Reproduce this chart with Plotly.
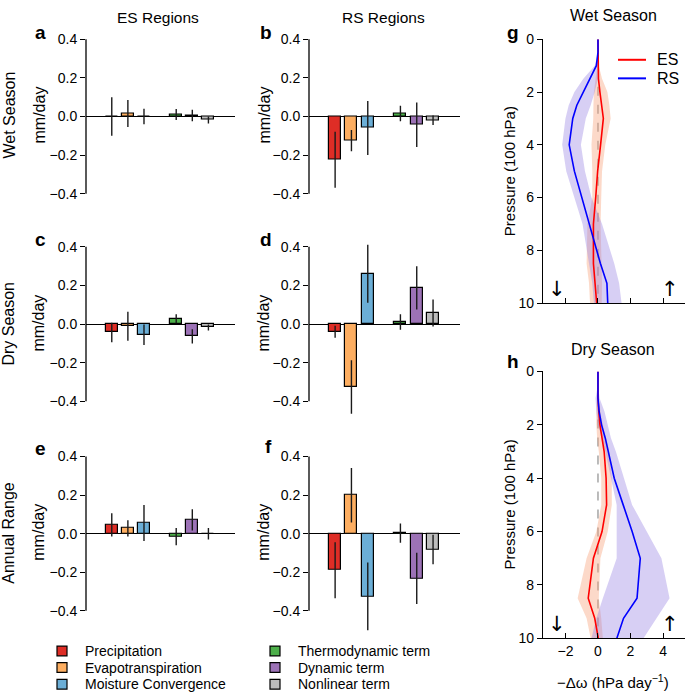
import plotly.graph_objects as go

W, H = 685, 700
FONT = "Liberation Sans, Arial, Helvetica, sans-serif"

# ---------------- data ----------------
categories = ["Precipitation", "Evapotranspiration", "Moisture Convergence",
              "Thermodynamic term", "Dynamic term", "Nonlinear term"]
bar_colors = ["#de2d26", "#fdae61", "#6baed6", "#4daf4a", "#9c72b6", "#bdbdbd"]

es_wet = [0.0, 0.015, 0.0, 0.01, 0.005, -0.018]
es_wet_err = [0.10, 0.07, 0.04, 0.028, 0.03, 0.018]
rs_wet = [-0.225, -0.125, -0.06, 0.015, -0.043, -0.02]
rs_wet_err = [0.145, 0.055, 0.14, 0.04, 0.115, 0.025]
es_dry = [-0.044, -0.012, -0.056, 0.027, -0.064, -0.018]
es_dry_err = [0.05, 0.075, 0.053, 0.023, 0.037, 0.016]
rs_dry = [-0.04, -0.326, 0.26, 0.01, 0.187, 0.057]
rs_dry_err = [0.031, 0.138, 0.15, 0.04, 0.112, 0.07]
es_ann = [0.046, 0.028, 0.055, -0.015, 0.071, 0.0]
es_ann_err = [0.06, 0.042, 0.093, 0.045, 0.055, 0.03]
rs_ann = [-0.189, 0.199, -0.325, 0.003, -0.232, -0.082]
rs_ann_err = [0.145, 0.141, 0.175, 0.05, 0.133, 0.077]

bar_ticks = [-0.4, -0.2, 0.0, 0.2, 0.4]
bar_ticktext = ["\u22120.4", "\u22120.2", "0.0", "0.2", "0.4"]

# pressure levels (100 hPa)
levels = [0, 0.5, 1, 1.5, 2, 2.5, 3, 4, 5, 6, 7, 8.5, 9.25, 10]
wet_es = [0, 0, 0, 0.03, 0.12, 0.22, 0.33, 0.16, -0.02, -0.14, -0.28, -0.28, -0.16, -0.08]
wet_es_lo = [0, 0, -0.05, -0.15, -0.25, -0.28, -0.29, -0.4, -0.35, -0.35, -0.65, -0.7, -0.55, -0.49]
wet_es_hi = [0, 0, 0.05, 0.25, 0.58, 0.7, 0.78, 0.45, 0.25, 0.2, 0.16, 0.23, 0.25, 0.23]
wet_rs = [0, 0, -0.1, -0.5, -0.95, -1.3, -1.55, -1.77, -1.45, -1.0, -0.55, 0.15, 0.55, 0.6]
wet_rs_lo = [0, 0, -0.2, -0.9, -1.45, -1.8, -2.0, -2.2, -1.95, -1.45, -0.95, -0.55, -0.35, -0.25]
wet_rs_hi = [0, 0, 0.05, 0.0, -0.2, -0.45, -0.75, -1.05, -0.8, -0.4, 0.25, 1.0, 1.3, 1.45]

dry_es = [0, 0, 0, 0.05, 0.12, 0.25, 0.38, 0.5, 0.53, 0.25, -0.28, -0.6, -0.2, 0.02]
dry_es_lo = [0, 0, -0.05, -0.1, -0.1, -0.05, 0.05, 0.2, 0.2, -0.1, -0.7, -1.25, -0.7, -0.45]
dry_es_hi = [0, 0, 0.05, 0.15, 0.3, 0.5, 0.7, 0.85, 0.85, 0.6, 0.15, 0.05, 0.2, 0.3]
dry_rs = [0, 0, 0, 0.07, 0.22, 0.45, 0.62, 1.0, 1.55, 2.1, 2.6, 2.4, 1.57, 1.16]
dry_rs_lo = [0, 0, -0.15, -0.1, 0.0, 0.25, 0.45, 0.8, 1.15, 1.15, 1.15, 0.3, -0.1, -0.4]
dry_rs_hi = [0, 0, 0.1, 0.4, 0.6, 0.8, 1.1, 1.6, 2.1, 3.0, 3.9, 4.4, 3.6, 2.8]

omega_ticks = [-2, 0, 2, 4]
omega_ticktext = ["\u22122", "0", "2", "4"]
p_ticks = [0, 2, 4, 6, 8, 10]

# ---------------- helpers ----------------
def px(x):
    return x / W

def py(y):
    return 1 - y / H

def axn(i):
    return "" if i == 1 else str(i)

fig = go.Figure()
layout = dict(
    width=W, height=H, margin=dict(l=0, r=0, t=0, b=0),
    paper_bgcolor="white", plot_bgcolor="white",
    font=dict(family=FONT, size=14, color="black"),
    showlegend=False, bargap=0,
)
shapes = []
annotations = []

def ann(text, x, y, size=14, angle=0, xanchor="center", bold=False, **kw):
    annotations.append(dict(
        text=("<b>%s</b>" % text) if bold else text,
        x=px(x), y=py(y), xref="paper", yref="paper",
        xanchor=xanchor, yanchor="middle", showarrow=False, textangle=angle,
        font=dict(family=FONT, size=size, color="black"), **kw))

# ---------------- bar panels ----------------
bar_panels = [
    (es_wet, es_wet_err), (rs_wet, rs_wet_err),
    (es_dry, es_dry_err), (rs_dry, rs_dry_err),
    (es_ann, es_ann_err), (rs_ann, rs_ann_err),
]
col_px = [(86, 235), (309, 460)]
row_px = [(22.1, 219.6), (234.4, 432.2), (449.1, 646.6)]
positions = [i + (1 if i >= 3 else 0) for i in range(len(categories))]

for k, (vals, errs) in enumerate(bar_panels):
    i = k + 1
    a = axn(i)
    col, row = k % 2, k // 2
    fig.add_trace(go.Bar(
        x=positions, y=vals, width=0.74,
        marker=dict(color=bar_colors, line=dict(color="black", width=1.2)),
        error_y=dict(type="data", array=errs, visible=True, color="#1a1a1a",
                     thickness=1.4, width=0),
        xaxis="x" + a, yaxis="y" + a, hoverinfo="skip", showlegend=False))
    x0, x1 = col_px[col]
    t, b = row_px[row]
    layout["xaxis" + a] = dict(domain=[px(x0), px(x1)], range=[-1.6, 7.65],
                               visible=False, anchor="y" + a, fixedrange=True)
    layout["yaxis" + a] = dict(
        domain=[py(b), py(t)], range=[-0.55, 0.45], anchor="x" + a,
        tickvals=bar_ticks, ticktext=bar_ticktext, ticks="outside", ticklen=5,
        tickwidth=1.3, tickcolor="black", showline=False, showgrid=False,
        zeroline=True, zerolinecolor="black", zerolinewidth=1.3,
        tickfont=dict(family=FONT, size=14, color="black"), fixedrange=True)
    shapes.append(dict(type="line", xref="x%s domain" % a, yref="y" + a,
                       x0=0, x1=0, y0=-0.4, y1=0.4,
                       line=dict(color="black", width=1.3)))

# ---------------- profile panels ----------------
prof = [
    (7, (32, 302), wet_es, wet_es_lo, wet_es_hi, wet_rs, wet_rs_lo, wet_rs_hi, False),
    (8, (372, 645), dry_es, dry_es_lo, dry_es_hi, dry_rs, dry_rs_lo, dry_rs_hi, True),
]
for (i, (t, b), es, es_lo, es_hi, rs, rs_lo, rs_hi, labels) in prof:
    a = axn(i)
    for lo, hi, fc in [(es_lo, es_hi, "rgba(247,160,120,0.40)"),
                       (rs_lo, rs_hi, "rgba(150,130,225,0.38)")]:
        fig.add_trace(go.Scatter(
            x=lo + hi[::-1], y=levels + levels[::-1], fill="toself",
            fillcolor=fc, line=dict(width=0), mode="lines",
            xaxis="x" + a, yaxis="y" + a, hoverinfo="skip", showlegend=False))
    for vals, lc in [(es, "#ff0000"), (rs, "#0000ff")]:
        fig.add_trace(go.Scatter(
            x=vals, y=levels, mode="lines", line=dict(color=lc, width=1.6),
            xaxis="x" + a, yaxis="y" + a, hoverinfo="skip", showlegend=False))
    layout["xaxis" + a] = dict(
        domain=[px(543), px(685)], range=[-3.38, 5.35], anchor="y" + a,
        tickvals=omega_ticks, ticktext=omega_ticktext, ticks="inside",
        ticklen=5, tickwidth=1.3, tickcolor="black", showticklabels=labels,
        showline=True, linecolor="black", linewidth=1.3, showgrid=False,
        zeroline=False, tickfont=dict(family=FONT, size=14, color="black"),
        fixedrange=True)
    layout["yaxis" + a] = dict(
        domain=[py(b), py(t)], range=[10, 0], anchor="x" + a,
        tickvals=p_ticks, ticks="outside", ticklen=5, tickwidth=1.3,
        tickcolor="black", showline=True, linecolor="black", linewidth=1.3,
        showgrid=False, zeroline=False,
        tickfont=dict(family=FONT, size=14, color="black"), fixedrange=True)
    shapes.append(dict(type="line", xref="x" + a, yref="y" + a, x0=0, x1=0,
                       y0=1.8, y1=10, layer="below",
                       line=dict(color="#aaaaaa", width=1.6, dash="dash")))
    for sym, xv in [("\u2193", -2.52), ("\u2191", 4.43)]:
        annotations.append(dict(text=sym, x=xv, y=9.45, xref="x" + a, yref="y" + a,
                                showarrow=False, xanchor="center", yanchor="middle",
                                font=dict(family="DejaVu Sans", size=21, color="black")))

# ---------------- texts ----------------
ann("ES Regions", 158, 10, size=15.5)
ann("RS Regions", 383, 10, size=15.5)
for letter, x, y in [("a", 40, 25), ("b", 266, 25), ("c", 40, 237), ("d", 266, 237),
                     ("e", 40, 451), ("f", 268, 449), ("g", 513, 25), ("h", 513, 362)]:
    ann(letter, x, y, size=19, bold=True)
for text, y in [("Wet Season", 110), ("Dry Season", 323), ("Annual Range", 537)]:
    ann(text, 9, y, size=16, angle=-90)
    ann("mm/day", 39, y, size=16, angle=-90)
    ann("mm/day", 264, y, size=16, angle=-90)
ann("Wet Season", 613, 8, size=16)
ann("Dry Season", 613, 349, size=16)
ann("Pressure (100 hPa)", 509, 167, size=15, angle=-90)
ann("Pressure (100 hPa)", 509, 508, size=15, angle=-90)
ann("\u2212\u0394\u03c9 (hPa day<sup>\u22121</sup>)", 613, 689, size=15)

# legend for profiles (g)
for name, lc, y in [("ES", "#ff0000", 53), ("RS", "#0000ff", 72)]:
    shapes.append(dict(type="line", xref="paper", yref="paper", x0=px(618), x1=px(646),
                       y0=py(y), y1=py(y), line=dict(color=lc, width=2)))
    ann(name, 655, y, size=16, xanchor="left")

# legend for bars
leg_pos = [(62, 658), (62, 675), (62, 692), (275, 658), (275, 675), (275, 692)]
for name, c, (lx, ly) in zip(categories, bar_colors, leg_pos):
    shapes.append(dict(type="rect", xref="paper", yref="paper",
                       x0=px(lx - 5), x1=px(lx + 5), y0=py(ly + 5), y1=py(ly - 5),
                       fillcolor=c, line=dict(color="black", width=1.2)))
    ann(name, lx + 21, ly, size=14, xanchor="left")

layout["shapes"] = shapes
layout["annotations"] = annotations
fig.update_layout(**layout)
fig.write_html("out.html")
